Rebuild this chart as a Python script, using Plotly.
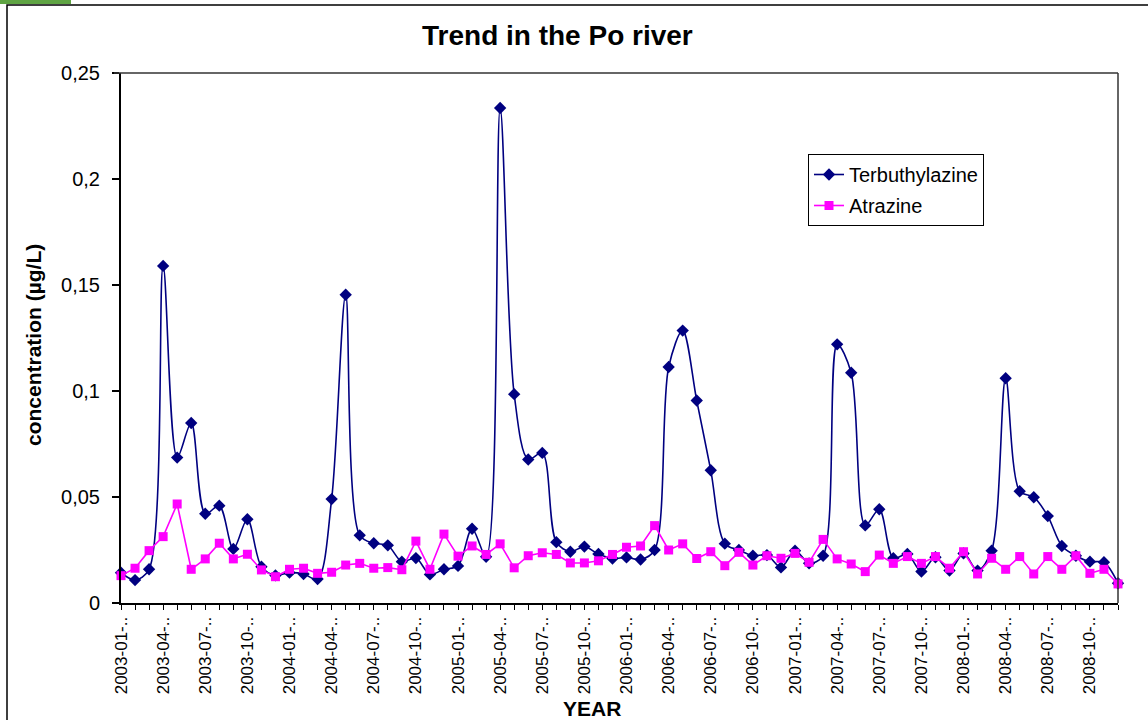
import plotly.graph_objects as go

months = [f"{y}-{m:02d}" for y in range(2003, 2009) for m in range(1, 13)]

terbuthylazine = [0.0143, 0.0108, 0.0159, 0.159, 0.0686, 0.0849, 0.0421, 0.0459, 0.0255, 0.0395,
                  0.0171, 0.0130, 0.0143, 0.0137, 0.0113, 0.0490, 0.1454, 0.0319, 0.0282, 0.0272,
                  0.0195, 0.0212, 0.0135, 0.0159, 0.0175, 0.0350, 0.0218, 0.2335, 0.0985, 0.0677,
                  0.0708, 0.0287, 0.0242, 0.0266, 0.0231, 0.0210, 0.0215, 0.0205, 0.0250, 0.1113,
                  0.1285, 0.0955, 0.0626, 0.0280, 0.0250, 0.0223, 0.0226, 0.0168, 0.0247, 0.0187,
                  0.0223, 0.1220, 0.1086, 0.0366, 0.0442, 0.0211, 0.0231, 0.0148, 0.0216, 0.0153,
                  0.0234, 0.0153, 0.0247, 0.1060, 0.0527, 0.0499, 0.0410, 0.0269, 0.0223, 0.0195,
                  0.0192, 0.0093]

atrazine = [0.0129, 0.0164, 0.0247, 0.0313, 0.0467, 0.0159, 0.0208, 0.0282, 0.0208, 0.0230,
            0.0156, 0.0124, 0.0159, 0.0164, 0.0140, 0.0145, 0.0179, 0.0187, 0.0164, 0.0167,
            0.0157, 0.0292, 0.0159, 0.0325, 0.0221, 0.0269, 0.0229, 0.0279, 0.0166, 0.0223,
            0.0237, 0.0229, 0.0189, 0.0189, 0.0199, 0.0229, 0.0263, 0.0269, 0.0365, 0.0250,
            0.0279, 0.0210, 0.0242, 0.0176, 0.0239, 0.0179, 0.0223, 0.0211, 0.0234, 0.0192,
            0.0300, 0.0208, 0.0184, 0.0148, 0.0226, 0.0187, 0.0219, 0.0187, 0.0219, 0.0164,
            0.0242, 0.0137, 0.0211, 0.0159, 0.0219, 0.0137, 0.0219, 0.0159, 0.0223, 0.0140,
            0.0159, 0.0090]

xpos = list(range(len(months)))
tick_positions = xpos[::3]
tick_labels = [m + "-.." for m in months[::3]]

FONT = "Liberation Sans, Arial, sans-serif"

fig = go.Figure()
fig.add_trace(go.Scatter(
    x=xpos, y=terbuthylazine, name="Terbuthylazine", mode="lines+markers",
    line=dict(color="#000080", width=1.6, shape="spline", smoothing=0.9),
    marker=dict(symbol="diamond", size=9.5, color="#000080"),
    cliponaxis=False, legendgroup="a",
))
fig.add_trace(go.Scatter(
    x=xpos, y=atrazine, name="Atrazine", mode="lines+markers",
    line=dict(color="#FF00FF", width=1.6),
    marker=dict(symbol="square", size=9, color="#FF00FF"),
    cliponaxis=False, legendgroup="b",
))

L, R, T, B = 121, 30, 73, 117
W, H = 1148, 720
pw, ph = W - L - R, H - T - B

def px(x):
    return (x - L) / pw

def py(y):
    return (H - B - y) / ph

fig.update_layout(
    width=W, height=H,
    margin=dict(l=L, r=R, t=T, b=B),
    paper_bgcolor="white", plot_bgcolor="white",
    separators=",.",
    font=dict(family=FONT, size=20, color="black"),
    showlegend=True,
    legend=dict(
        x=px(808), y=py(154), xanchor="left", yanchor="top",
        bgcolor="white", bordercolor="black", borderwidth=1,
        font=dict(family=FONT, size=20, color="black"),
        tracegroupgap=2, traceorder="grouped",
        itemwidth=30,
    ),
    xaxis=dict(
        range=[0, len(months) - 1],
        tickmode="array", tickvals=tick_positions, ticktext=tick_labels,
        tickangle=-90, ticks="outside", ticklen=5, tickwidth=1, tickcolor="black",
        minor=dict(dtick=1, tick0=0, ticks="outside", ticklen=5, tickwidth=1, tickcolor="black", showgrid=False),
        showgrid=False, zeroline=False,
        showline=True, linecolor="black", linewidth=2,
        tickfont=dict(family=FONT, size=17),
    ),
    yaxis=dict(
        range=[0, 0.25], dtick=0.05, tick0=0,
        ticks="outside", ticklen=7, tickwidth=2, tickcolor="black",
        ticklabelstandoff=8,
        showgrid=False, zeroline=False,
        showline=True, linecolor="black", linewidth=2,
        tickfont=dict(family=FONT, size=20),
    ),
    annotations=[
        dict(text="<b>Trend in the Po river</b>", xref="paper", yref="paper",
             x=px(557), y=py(35), xanchor="center", yanchor="middle", showarrow=False,
             font=dict(family=FONT, size=28, color="black")),
        dict(text="<b>concentration (µg/L)</b>", xref="paper", yref="paper",
             x=px(33), y=py(345), xanchor="center", yanchor="middle", showarrow=False,
             textangle=-90, font=dict(family=FONT, size=21, color="black")),
        dict(text="<b>YEAR</b>", xref="paper", yref="paper",
             x=px(592), y=py(708), xanchor="center", yanchor="middle", showarrow=False,
             font=dict(family=FONT, size=21, color="black")),
    ],
    shapes=[
        # outer chart frame
        dict(type="rect", xref="paper", yref="paper",
             x0=px(7), x1=px(1160), y0=py(730), y1=py(5),
             line=dict(color="black", width=1.5), fillcolor="rgba(0,0,0,0)", layer="below"),
        # green tab
        dict(type="rect", xref="paper", yref="paper",
             x0=px(0), x1=px(71), y0=py(4), y1=py(0),
             line=dict(width=0), fillcolor="#5fa443"),
        # top and right border of plot area
        dict(type="line", xref="paper", yref="paper", x0=px(114), x1=1, y0=1, y1=1,
             line=dict(color="#333333", width=1.5)),
        dict(type="line", xref="paper", yref="paper", x0=1, x1=1, y0=0, y1=1,
             line=dict(color="#333333", width=1.5)),
    ],
)

fig.write_html("out.html", config={"displayModeBar": False},
               post_script="document.body.style.margin='0';document.body.style.overflow='hidden';")
